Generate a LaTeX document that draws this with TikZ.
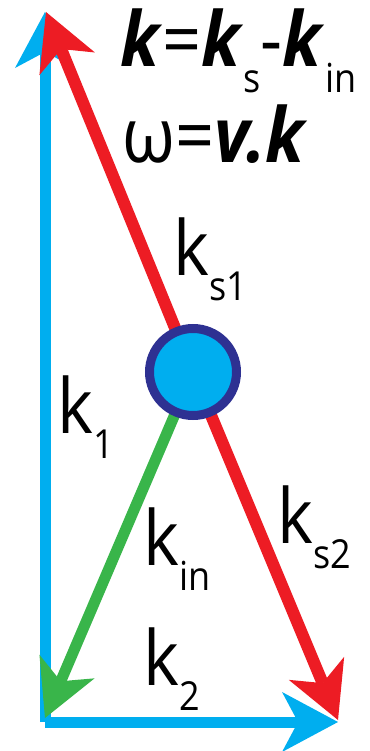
\documentclass[tikz,border=0pt]{standalone}
\usepackage{fontspec}
\setmainfont{Open Sans}[FakeStretch=0.9]
\usetikzlibrary{arrows.meta}
\definecolor{kblue}{RGB}{0,174,239}
\definecolor{kred}{RGB}{237,28,36}
\definecolor{kgreen}{RGB}{57,181,74}
\definecolor{kring}{RGB}{46,49,146}
\newcommand{\ksub}[1]{\raisebox{-0.34em}{\fontsize{40}{40}\selectfont #1}}
\newcommand{\bk}[1]{\textbf{\textit{#1}}}
\tikzset{kvec/.style={x=1pt,y=-1pt,font=\fontsize{76}{80}\selectfont}}
\tikzset{vtip/.style={-{Stealth[length=56pt,width=60pt,inset=16pt,line width=0pt]}},
         vblue/.style={kblue,line width=11pt,vtip},
         vred/.style={kred,line width=12pt,vtip},
         vgreen/.style={kgreen,line width=11pt,vtip},
         klab/.style={anchor=base west,inner sep=0pt}}

\begin{document}
\begin{tikzpicture}[kvec]
    \useasboundingbox (0,0) rectangle (369,751);
    \coordinate (o) at (45,722);
    \coordinate (k1end) at (45,12);
    \coordinate (k2end) at (338,722);
    \coordinate (ks1end) at (46,12);
    \coordinate (ks2end) at (338,720);
    \coordinate (kinend) at (45,718);
    \coordinate (c) at (193,372);
    \draw[vblue] (o) -- (k1end);
    \draw[vblue] (o) -- (k2end);
    \draw[vred] (c) -- (ks1end);
    \draw[vred] (c) -- (ks2end);
    \draw[vgreen] (c) -- (kinend);
    \node[circle,draw=kring,fill=kblue,line width=9pt,minimum size=87pt,inner sep=0pt] (scat) at (c) {};
    % labels
    \node[klab] (eqk) at (120,67) {\bk{k}=\bk{k}\ksub{s}-\bk{k}\ksub{in}};
    \node[klab] (eqw) at (122,163) {ω=\bk{v.k}};
    \node[klab] (lks1) at (173,275) {k\ksub{s1}};
    \node[klab] (lk1) at (57,433) {k\ksub{1}};
    \node[klab] (lkin) at (143,565) {k\ksub{in}};
    \node[klab] (lks2) at (277,543) {k\ksub{s2}};
    \node[klab] (lk2) at (143,685) {k\ksub{2}};
\end{tikzpicture}
\end{document}
